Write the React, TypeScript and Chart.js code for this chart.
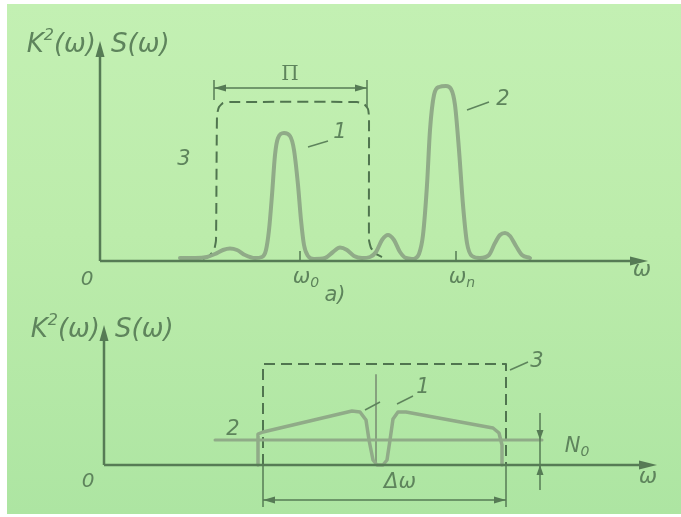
import React, { useEffect, useRef } from "react";
import { Chart, registerables } from "chart.js";
Chart.register(...registerables);

const W = 681;
const H = 517;
const FONT = '"DejaVu Sans", "Liberation Sans", sans-serif';

const AXIS = "#567b55";
const TEXT = "#5e845c";
const CURVE = "#90ab88";
const DASH = "#50754f";

// ---------- Panel (a): spectra vs ω (arbitrary units) ----------
const topSignalW = [8.0, 9.5, 10.7, 11.5, 12.3, 13.0, 13.7, 14.5, 15.5, 16.2, 16.6, 16.9, 17.2, 17.5, 17.8, 18.4, 19.0, 19.4, 19.8, 20.1, 20.4, 20.8, 21.4, 22.5, 23.3, 24.0, 24.7, 25.4, 26.2, 27.0, 27.6, 28.2, 28.8, 29.4, 30.0, 30.6, 31.4];
const topSignalS = [0.3, 0.3, 0.4, 0.7, 1.1, 1.25, 1.1, 0.6, 0.3, 0.4, 1.1, 3.1, 6.6, 10.6, 12.3, 12.8, 12.5, 11.1, 7.6, 4.1, 1.6, 0.5, 0.2, 0.3, 0.9, 1.35, 1.1, 0.5, 0.3, 0.4, 0.9, 2.1, 2.6, 2.1, 0.9, 0.3, 0.2];

const topInterfW = [31.4, 31.9, 32.3, 32.7, 33.0, 33.4, 33.9, 34.6, 35.1, 35.5, 35.9, 36.3, 36.7, 37.2, 38.0, 38.9, 39.5, 40.0, 40.5, 41.0, 41.6, 42.2, 43.0];
const topInterfS = [0.2, 0.7, 2.6, 7.6, 13.1, 16.6, 17.4, 17.5, 17.2, 15.6, 11.1, 5.6, 1.8, 0.5, 0.3, 0.6, 1.8, 2.6, 2.8, 2.5, 1.5, 0.6, 0.3];

const topFilterW = [10.3, 10.9, 11.4, 11.6, 11.7, 11.9, 12.3, 13.0, 25.7, 26.4, 26.8, 26.9, 26.9, 27.1, 27.6, 28.2];
const topFilterK = [0.2, 0.5, 1.1, 2.1, 14.6, 15.4, 15.8, 15.9, 15.9, 15.7, 15.2, 14.4, 2.1, 1.3, 0.7, 0.4];

const topTicks = [20.0, 35.6];
const topTickLabels = ["ω|0", "ω|n"];

// ---------- Panel (b) ----------
const botNoiseW = [11.1, 43.8];
const botNoiseS = [2.5, 2.5];

const botSignalW = [15.4, 15.4, 15.9, 24.8, 25.6, 26.2, 26.5, 26.9, 27.3, 27.9, 28.3, 28.6, 28.9, 29.4, 30.2, 38.9, 39.5, 39.8, 39.8];
const botSignalS = [0.0, 3.1, 3.3, 5.4, 5.3, 4.5, 2.5, 0.5, 0.0, 0.0, 0.5, 2.5, 4.6, 5.3, 5.3, 3.7, 3.2, 2.0, 0.0];

const botSpikeW = [27.2, 27.2];
const botSpikeS = [0.0, 9.0];

const botFilterW = [15.9, 15.9, 40.2, 40.2];
const botFilterK = [0.0, 10.1, 10.1, 0.0];

const bandLow = 15.9;
const bandHigh = 40.2;
const noiseLevel = 2.5;

const pts = (xs: number[], ys: number[]) => xs.map((x, i) => ({ x, y: ys[i] }));

type Part = [string, number, number];
function rich(ctx: CanvasRenderingContext2D, parts: Part[], x: number, y: number, align: "left" | "center" | "right", style = "italic") {
  let total = 0;
  const widths = parts.map(([t, s]) => {
    ctx.font = `${style} ${s}px ${FONT}`;
    const w = ctx.measureText(t).width;
    total += w;
    return w;
  });
  let cx = align === "right" ? x - total : align === "center" ? x - total / 2 : x;
  ctx.fillStyle = TEXT;
  ctx.textBaseline = "middle";
  ctx.textAlign = "left";
  parts.forEach(([t, s, dy], i) => {
    ctx.font = `${style} ${s}px ${FONT}`;
    ctx.fillText(t, cx, y + dy);
    cx += widths[i];
  });
}

function head(ctx: CanvasRenderingContext2D, tx: number, ty: number, dx: number, dy: number, len: number, hw: number, color: string) {
  const px = -dy, py = dx;
  ctx.fillStyle = color;
  ctx.beginPath();
  ctx.moveTo(tx, ty);
  ctx.lineTo(tx - dx * len + px * hw, ty - dy * len + py * hw);
  ctx.lineTo(tx - dx * len - px * hw, ty - dy * len - py * hw);
  ctx.closePath();
  ctx.fill();
}

function line(ctx: CanvasRenderingContext2D, x1: number, y1: number, x2: number, y2: number, color: string, w: number) {
  ctx.strokeStyle = color;
  ctx.lineWidth = w;
  ctx.setLineDash([]);
  ctx.beginPath();
  ctx.moveTo(x1, y1);
  ctx.lineTo(x2, y2);
  ctx.stroke();
}

function axesLabel(ctx: CanvasRenderingContext2D, x: number, y: number, gap: number) {
  rich(ctx, [["K", 26, 0], ["2", 16, -9], ["(ω)", 26, 0]], x - gap, y, "right", "italic 300");
  rich(ctx, [["S(ω)", 26, 0]], x + gap + 7, y, "left", "italic 300");
}

const topPlugin = {
  id: "topDeco",
  afterDraw(chart: any) {
    const { ctx } = chart;
    const X = chart.scales.x, Y = chart.scales.y;
    const px = (v: number) => X.getPixelForValue(v);
    const py = (v: number) => Y.getPixelForValue(v);
    ctx.save();
    // axes
    line(ctx, px(0), py(0), px(0), py(22) + 10, AXIS, 2.5);
    head(ctx, px(0), py(22), 0, -1, 16, 4.5, AXIS);
    line(ctx, px(0), py(0), px(54.8) - 10, py(0), AXIS, 2.5);
    head(ctx, px(54.8), py(0), 1, 0, 18, 4.5, AXIS);
    // ticks
    topTicks.forEach((t) => line(ctx, px(t), py(0), px(t), py(1.0), AXIS, 1.5));
    // bandwidth Π
    line(ctx, px(11.4), py(17.3), px(26.7), py(17.3), AXIS, 1.5);
    head(ctx, px(11.4), py(17.3), -1, 0, 12, 3.5, AXIS);
    head(ctx, px(26.7), py(17.3), 1, 0, 12, 3.5, AXIS);
    line(ctx, px(11.4), py(18.1), px(11.4), py(16.1), AXIS, 1.5);
    line(ctx, px(26.7), py(18.1), px(26.7), py(15.3), AXIS, 1.5);
    // leaders
    line(ctx, px(20.8), py(11.4), px(22.8), py(12.0), TEXT, 1.5);
    line(ctx, px(36.7), py(15.1), px(38.9), py(15.9), TEXT, 1.5);
    // labels
    axesLabel(ctx, px(0), py(21.6), 4);
    rich(ctx, [["0", 20, 0]], px(-1.3), py(-1.9), "center");
    topTicks.forEach((t, i) => {
      const [a, b] = topTickLabels[i].split("|");
      rich(ctx, [[a, 21, 0], [b, 14, 5]], px(t + 0.6), py(-1.7), "center");
    });
    rich(ctx, [["ω", 22, 0]], px(54.2), py(-0.9), "center");
    rich(ctx, [["a)", 21, 0]], px(23.5), py(-3.5), "center");
    ctx.font = `20px "DejaVu Serif", serif`;
    ctx.fillStyle = TEXT;
    ctx.textAlign = "center";
    ctx.textBaseline = "middle";
    ctx.fillText("Π", px(19.0), py(18.6));
    rich(ctx, [["3", 21, 0]], px(8.4), py(10.1), "center");
    rich(ctx, [["1", 21, 0]], px(24.0), py(12.8), "center");
    rich(ctx, [["2", 21, 0]], px(40.3), py(16.1), "center");
    ctx.restore();
  },
};

const botPlugin = {
  id: "botDeco",
  afterDraw(chart: any) {
    const { ctx } = chart;
    const X = chart.scales.x, Y = chart.scales.y;
    const px = (v: number) => X.getPixelForValue(v);
    const py = (v: number) => Y.getPixelForValue(v);
    ctx.save();
    line(ctx, px(0), py(0), px(0), py(14) + 10, AXIS, 2.5);
    head(ctx, px(0), py(14), 0, -1, 16, 4.5, AXIS);
    line(ctx, px(0), py(0), px(55.3) - 10, py(0), AXIS, 2.5);
    head(ctx, px(55.3), py(0), 1, 0, 18, 4.5, AXIS);
    // Δω dimension
    line(ctx, px(bandLow), py(0), px(bandLow), py(-4.2), AXIS, 1.5);
    line(ctx, px(bandHigh), py(0), px(bandHigh), py(-4.2), AXIS, 1.5);
    line(ctx, px(bandLow), py(-3.5), px(bandHigh), py(-3.5), AXIS, 1.5);
    head(ctx, px(bandLow), py(-3.5), -1, 0, 12, 3.5, AXIS);
    head(ctx, px(bandHigh), py(-3.5), 1, 0, 12, 3.5, AXIS);
    // N0 dimension
    line(ctx, px(43.6), py(5.2), px(43.6), py(-2.5), AXIS, 1.5);
    head(ctx, px(43.6), py(noiseLevel), 0, 1, 10, 3.5, AXIS);
    head(ctx, px(43.6), py(0), 0, -1, 10, 3.5, AXIS);
    // leaders
    line(ctx, px(40.6), py(9.5), px(42.4), py(10.3), TEXT, 1.5);
    line(ctx, px(26.1), py(5.5), px(27.6), py(6.3), TEXT, 1.5);
    line(ctx, px(29.3), py(6.1), px(30.9), py(6.9), TEXT, 1.5);
    // labels
    axesLabel(ctx, px(0), py(13.5), 4);
    rich(ctx, [["0", 20, 0]], px(-1.6), py(-1.7), "center");
    rich(ctx, [["ω", 22, 0]], px(54.4), py(-1.2), "center");
    rich(ctx, [["Δω", 21, 0]], px(29.6), py(-1.8), "center");
    rich(ctx, [["N", 21, 0], ["0", 14, 5]], px(47.3), py(1.8), "center");
    rich(ctx, [["2", 21, 0]], px(12.9), py(3.5), "center");
    rich(ctx, [["1", 21, 0]], px(31.9), py(7.7), "center");
    rich(ctx, [["3", 21, 0]], px(43.3), py(10.3), "center");
    ctx.restore();
  },
};

const ds = (data: any[], opts: any) => ({
  data,
  borderColor: CURVE,
  borderWidth: 4,
  pointRadius: 0,
  fill: false,
  clip: false,
  borderCapStyle: "round",
  borderJoinStyle: "round",
  tension: 0,
  ...opts,
});

function baseOptions(pad: any, xmax: number, ymax: number) {
  return {
    animation: false,
    responsive: false,
    devicePixelRatio: 1,
    events: [],
    layout: { padding: pad },
    scales: {
      x: { type: "linear", min: 0, max: xmax, display: false },
      y: { type: "linear", min: 0, max: ymax, display: false },
    },
    plugins: { legend: { display: false }, tooltip: { enabled: false } },
  };
}

export default function App() {
  const topRef = useRef<HTMLCanvasElement>(null);
  const botRef = useRef<HTMLCanvasElement>(null);

  useEffect(() => {
    const top = new Chart(topRef.current as HTMLCanvasElement, {
      type: "line",
      data: {
        datasets: [
          ds(pts(topSignalW, topSignalS), { cubicInterpolationMode: "monotone" }),
          ds(pts(topInterfW, topInterfS), { cubicInterpolationMode: "monotone" }),
          ds(pts(topFilterW, topFilterK), { borderColor: DASH, borderWidth: 2, borderDash: [11, 6], borderCapStyle: "butt", tension: 0.15 }),
        ],
      } as any,
      options: baseOptions({ left: 100, right: W - 650, top: 41, bottom: H - 261 }, 55, 22) as any,
      plugins: [topPlugin as any],
    });
    const bot = new Chart(botRef.current as HTMLCanvasElement, {
      type: "line",
      data: {
        datasets: [
          ds(pts(botNoiseW, botNoiseS), { borderWidth: 3 }),
          ds(pts(botSignalW, botSignalS), { borderWidth: 3.5 }),
          ds(pts(botSpikeW, botSpikeS), { borderWidth: 2, borderColor: "#86a27e" }),
          ds(pts(botFilterW, botFilterK), { borderColor: DASH, borderWidth: 2, borderDash: [11, 6], borderCapStyle: "butt" }),
        ],
      } as any,
      options: baseOptions({ left: 104, right: W - 656, top: 325, bottom: H - 465 }, 55.2, 14) as any,
      plugins: [botPlugin as any],
    });
    return () => {
      top.destroy();
      bot.destroy();
    };
  }, []);

  const cv: React.CSSProperties = { position: "absolute", left: 0, top: 0, width: W, height: H };
  return (
    <div style={{ position: "fixed", left: 0, top: 0, width: W, height: H, background: "#ffffff", overflow: "hidden" }}>
      <div
        style={{
          position: "absolute",
          left: 7,
          top: 4,
          right: 0,
          bottom: 3,
          background: "linear-gradient(180deg, #c3f0b3 0%, #bcecab 45%, #ade5a2 100%)",
        }}
      />
      <canvas ref={topRef} width={W} height={H} style={cv} />
      <canvas ref={botRef} width={W} height={H} style={cv} />
    </div>
  );
}
